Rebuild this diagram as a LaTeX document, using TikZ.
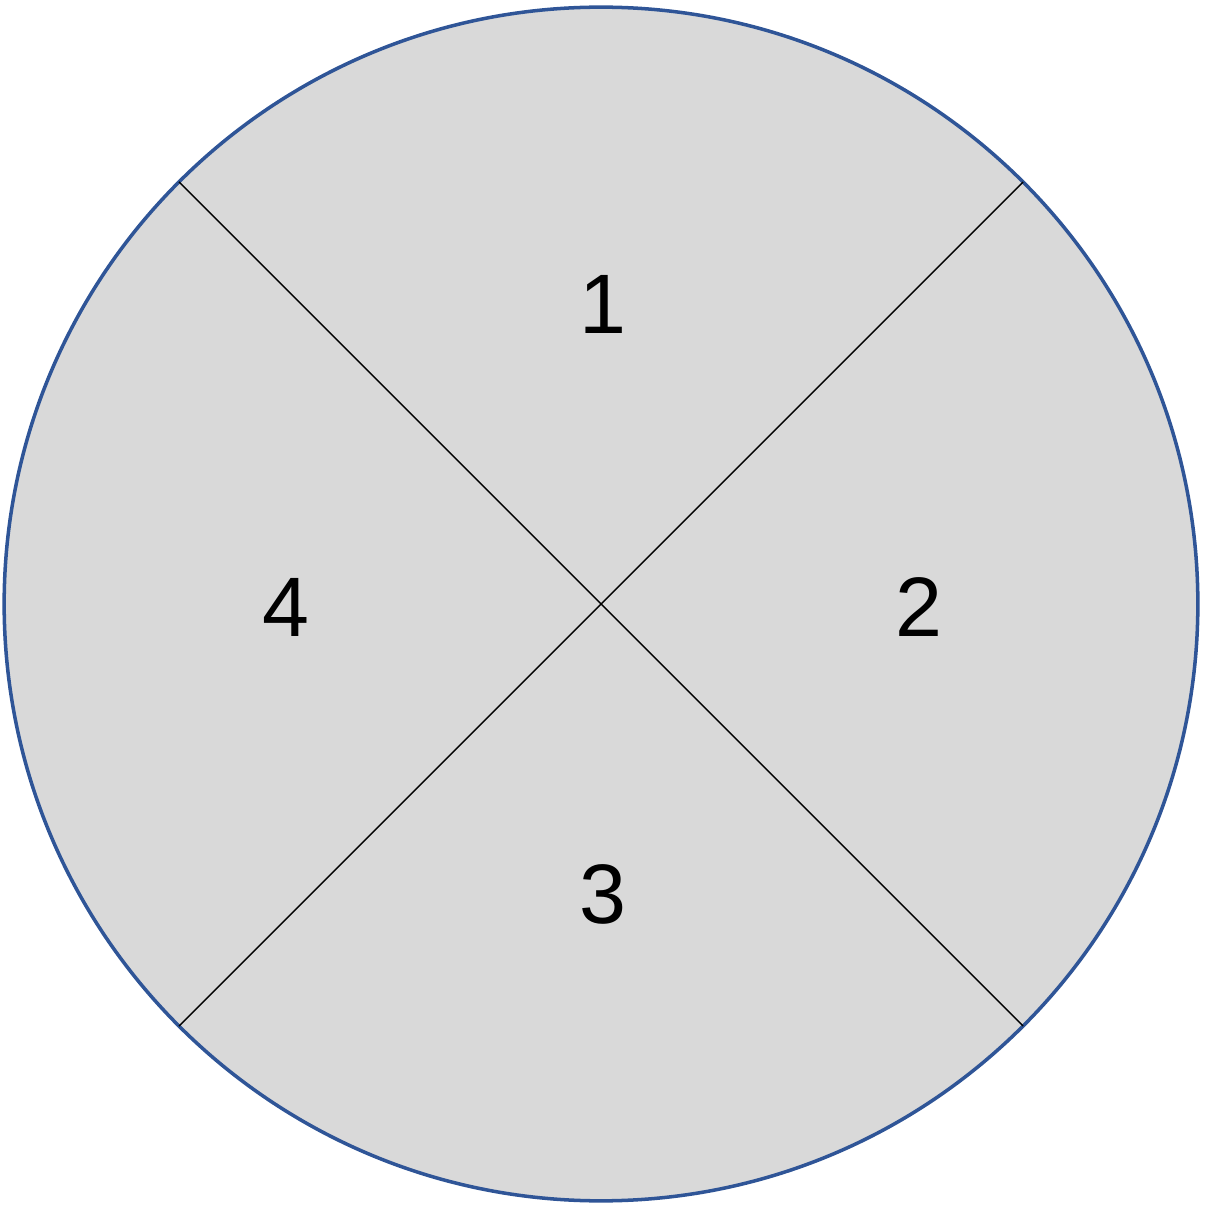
\documentclass[tikz,border=0pt]{standalone}
\usepackage{fontspec}
\setmainfont{Liberation Sans}
\usepackage{tikz}
\usetikzlibrary{positioning, calc}
\usepackage[dvipsnames, svgnames, table]{xcolor}
\definecolor{rimblue}{HTML}{2F5597}
\definecolor{discgray}{HTML}{D9D9D9}

\begin{document}
\begin{tikzpicture}[x=0.01cm, y=-0.01cm,
    quadlabel/.style={font=\fontsize{24}{28}\selectfont, inner sep=0pt, text=black}]
    \useasboundingbox (0,0) rectangle (1205,1210);

    % Disc
    \coordinate (c) at (601,604);
    \draw[rimblue, line width=1pt, fill=discgray] (c) circle (5.965cm);

    % Diagonals
    \coordinate (nw) at ($(c)+(135:5.965cm)$);
    \coordinate (ne) at ($(c)+(45:5.965cm)$);
    \coordinate (sw) at ($(c)+(-135:5.965cm)$);
    \coordinate (se) at ($(c)+(-45:5.965cm)$);
    \draw[black, line width=0.4pt] (nw) -- (se);
    \draw[black, line width=0.4pt] (ne) -- (sw);

    % Labels
    \node[quadlabel] (q1) at (603,304) {1};
    \node[quadlabel] (q2) at (919,607) {2};
    \node[quadlabel] (q3) at (603,894) {3};
    \node[quadlabel] (q4) at (286,607) {4};
\end{tikzpicture}
\end{document}
